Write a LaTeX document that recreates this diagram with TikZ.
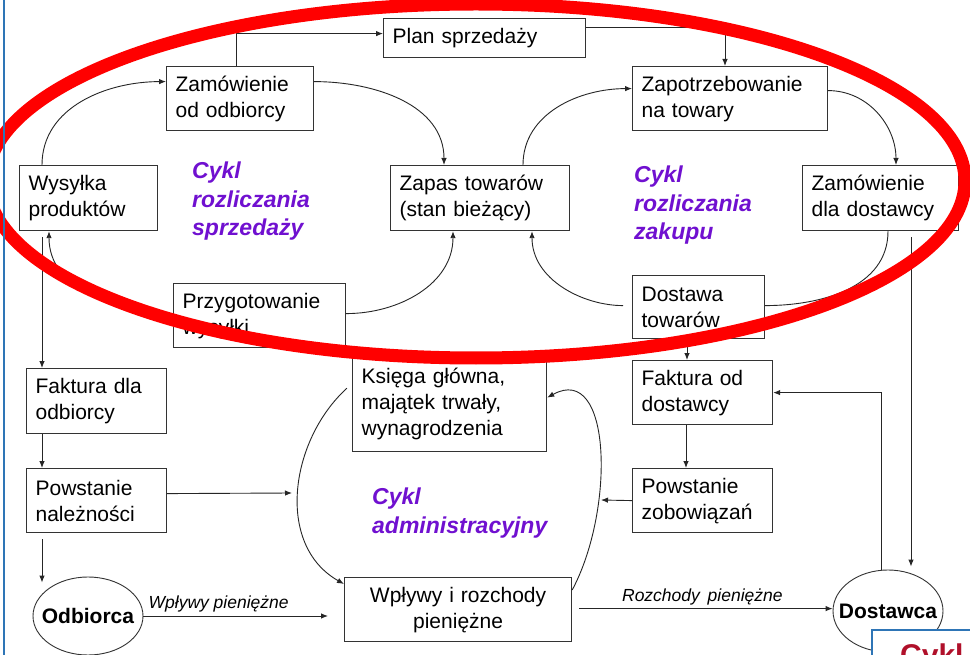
\documentclass[tikz,border=0pt]{standalone}
\usepackage{fontspec}
\setmainfont{Liberation Sans}
\usetikzlibrary{arrows.meta}
\usetikzlibrary{shapes.geometric}
\usetikzlibrary{positioning}
\definecolor{cyklPurple}{HTML}{7010D0}
\definecolor{markRed}{HTML}{FF0000}
\definecolor{frameBlue}{HTML}{2E75B6}
\definecolor{titleRed}{HTML}{B0102A}

\begin{document}
\begin{tikzpicture}[x=1pt,y=-1pt,
      block/.style ={rectangle, draw=black!80, line width=1.2pt, fill=white, anchor=north west, align=left, inner xsep=9pt, inner ysep=0pt, font=\fontsize{21}{26}\selectfont},
      party/.style ={ellipse, draw=black!80, line width=0.9pt, fill=white, inner sep=0pt, font=\bfseries\fontsize{21}{26}\selectfont},
      cyklLabel/.style={anchor=north west, align=left, inner sep=0pt, text=cyklPurple, font=\bfseries\itshape\fontsize{23}{28.5}\selectfont},
      cash/.style ={font=\itshape\fontsize{17.5}{20}\selectfont, inner sep=2pt},
      arr/.style ={-{Latex[length=7pt,width=5.5pt]}, line width=0.9pt, draw=black!85},
      link/.style ={line width=0.9pt, draw=black!85}
    ]
    \useasboundingbox (0,0) rectangle (970,655);
    \clip (0,0) rectangle (970,655);
    \fill [white] (0,0) rectangle (970,655);

    % cykl sprzedazy
    \node [block, text width=184pt, minimum height=39pt] (plan) at (383,18) {Plan sprzedaży};
    \node [block, text width=129pt, minimum height=64pt] (zamOdb) at (166,66) {Zamówienie\\od odbiorcy};
    \node [block, text width=120pt, minimum height=65pt] (wysylka) at (19,165) {Wysyłka\\produktów};
    \node [block, text width=161pt, minimum height=65pt] (zapas) at (390,165) {Zapas towarów\\(stan bieżący)};
    \node [block, text width=154pt, minimum height=64pt] (przyg) at (173,283) {Przygotowanie\\wysyłki};
    % cykl zakupu
    \node [block, text width=177pt, minimum height=64pt] (zapotrz) at (632,66) {Zapotrzebowanie\\na towary};
    \node [block, text width=138pt, minimum height=65pt] (zamDost) at (802,165) {Zamówienie\\dla dostawcy};
    \node [block, text width=114pt, minimum height=63pt] (dostawa) at (632,275) {Dostawa\\towarów};
    % cykl administracyjny
    \node [block, text width=122pt, minimum height=65pt] (fakOdb) at (26,368) {Faktura dla\\odbiorcy};
    \node [block, text width=122pt, minimum height=64pt] (powNal) at (26,468) {Powstanie\\należności};
    \node [block, text width=176pt, minimum height=96pt] (ksiega) at (352,355) {Księga główna,\\majątek trwały,\\wynagrodzenia};
    \node [block, text width=209pt, minimum height=64pt, align=center] (wplywy) at (344,577) {Wpływy i rozchody\\pieniężne};
    \node [block, text width=122pt, minimum height=64pt] (fakDost) at (632,360) {Faktura od\\dostawcy};
    \node [block, text width=122pt, minimum height=64pt] (powZob) at (632,468) {Powstanie\\zobowiązań};
    \node [party, minimum width=110pt, minimum height=78pt] (odbiorca) at (88,616) {\makebox[0pt]{Odbiorca}};
    \node [party, minimum width=110pt, minimum height=82pt] (dostawca) at (888,611) {\makebox[0pt]{Dostawca}};

    \node [cyklLabel] (cyklSprz) at (192,162) {Cykl\\rozliczania\\sprzedaży};
    \node [cyklLabel] (cyklZak) at (634,166) {Cykl\\rozliczania\\zakupu};
    \node [cyklLabel] (cyklAdm) at (372,488) {Cykl\\administracyjny};

    \coordinate (admL) at (292,493);
    \coordinate (admR) at (601,500);

    \draw [arr] ([xshift=70pt]zamOdb.north west) |- ([yshift=4.5pt]plan.west);
    \draw [arr] ([yshift=10.5pt]plan.east) -| ([xshift=93pt]zapotrz.north west);
    \draw [arr] ([yshift=17pt]zamOdb.east) to[out=0,in=90] ([xshift=54pt]zapas.north west);
    \draw [arr] ([xshift=23pt]wysylka.north west) to[out=90,in=180] ([yshift=17pt]zamOdb.west);
    \draw [arr] ([yshift=2pt]przyg.east) to[out=0,in=-90] ([xshift=63pt]zapas.south west);
    \draw [arr] ([yshift=2pt]przyg.west) to[out=180,in=-90] ([xshift=30pt]wysylka.south west);
    \draw [arr] ([yshift=8pt]zapotrz.east) to[out=0,in=90] ([xshift=94pt]zamDost.north west);
    \draw [arr] ([xshift=133pt]zapas.north west) to[out=90,in=180] ([yshift=10pt]zapotrz.west);
    \draw [link] ([xshift=86pt]zamDost.south west) to[out=-90,in=0] ([yshift=1.5pt]dostawa.east);
    \draw [arr, shorten <=9pt] ([yshift=1.5pt]dostawa.west) to[out=180,in=-90] ([xshift=142pt]zapas.south west);

    \draw [arr, shorten <=6pt] ([xshift=23pt]wysylka.south west) -- ([xshift=16pt]fakOdb.north west);
    \draw [arr] ([xshift=16pt]fakOdb.south west) -- ([xshift=16pt]powNal.north west);
    \draw [arr, shorten <=6pt] ([xshift=16pt]powNal.south west) -- ([xshift=-46pt,yshift=-6pt]odbiorca.north);
    \draw [arr] ([yshift=7pt]powNal.east) -- (admL);
    \draw [arr, shorten >=16pt] (odbiorca.east) -- (odbiorca.east -| wplywy.west)
      node [cash, pos=0.375, above=1pt] (wplywyLbl) {Wpływy pieniężne};
    \draw [arr, shorten <=7pt] ([yshift=1pt]wplywy.east) -- ([yshift=1pt]wplywy.east -| dostawca.west)
      node [cash, midway, above=1pt] (rozchodyLbl) {Rozchody\, pieniężne};

    \draw [arr] ([xshift=55pt]dostawa.south west) -- ([xshift=55pt]fakDost.north west);
    \draw [arr] ([xshift=54pt]fakDost.south west) -- ([xshift=54pt]powZob.north west);
    \draw [arr] (powZob.west) -- (admR);
    \draw [arr] ([xshift=-7pt]dostawca.north) |- (fakDost.east);
    \draw [arr, shorten <=6pt] ([xshift=109pt]zamDost.south west) -- ([xshift=23pt,yshift=3pt]dostawca.north);

    \draw [arr, shorten <=7pt] ([yshift=20pt]ksiega.west) .. controls (290,440) and (275,545) .. ([yshift=-7pt]wplywy.north west);
    \draw [arr] ([yshift=-13pt]wplywy.north east) .. controls (615,510) and (612,362) .. ([yshift=6pt]ksiega.east);

    % red mark
    \draw [markRed, line width=13pt] (476,181) ellipse [x radius=489, y radius=177];

    \node [draw=frameBlue, line width=2pt, fill=white, anchor=north west, minimum width=140pt, minimum height=80pt] (cyklBox) at (871,629) {};
    \node [anchor=base west, inner sep=0pt, text=titleRed, font=\bfseries\fontsize{30}{36}\selectfont] (cyklTitle) at (900,665) {Cykl};
    \draw [frameBlue, line width=2pt] (4,0) -- (4,655);
  \end{tikzpicture}
\end{document}
